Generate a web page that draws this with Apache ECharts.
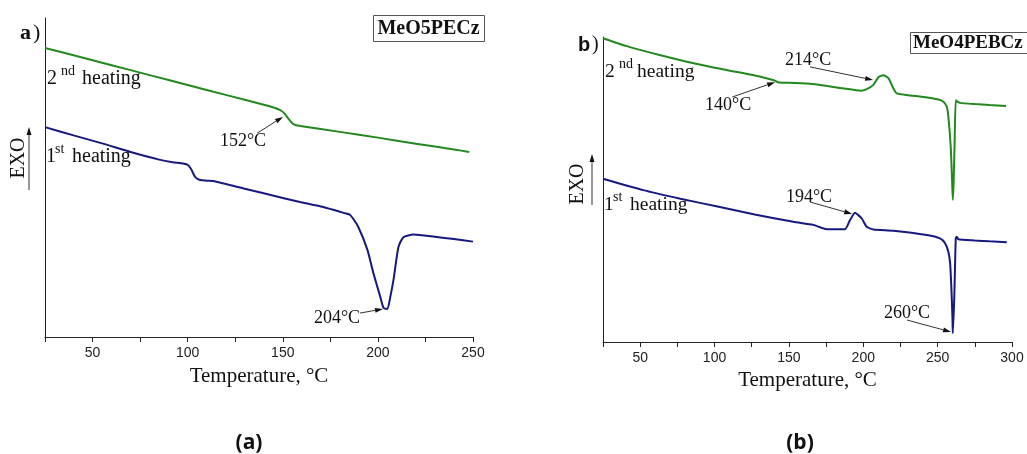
<!DOCTYPE html>
<html>
<head>
<meta charset="utf-8">
<script src="https://cdn.jsdelivr.net/npm/echarts@6/dist/echarts.min.js"></script>
<style>
  html, body { margin: 0; padding: 0; background: #fff; }
  #chart { width: 1027px; height: 454px; }
</style>
</head>
<body>
<div id="chart"></div>
<script>
// (a) MeO5PECz — temperature (°C) and heat flow (arbitrary units, EXO up)
const tA2 = [25, 40, 60, 80, 100, 120, 140, 146, 149, 151, 153, 155, 157, 160, 180, 200, 220, 240, 248]
const vA2 = [90.6, 88.3, 85.2, 82.1, 79.0, 75.9, 72.8, 71.8, 71.0, 70.0, 68.4, 67.0, 66.4, 66.1, 64.3, 62.5, 60.6, 58.8, 58.0]

const tA1 = [25, 40, 55, 70, 85, 92, 97.6, 100.2, 102, 103.9, 106.5, 110, 113.3, 130, 150, 159, 170, 177, 182, 185.5, 189.7, 194.5, 197.6, 201.3, 203, 205, 206.5, 208.2, 210.8, 213.4, 218.7, 230, 240, 250]
const vA1 = [65.8, 63.2, 60.7, 58.0, 55.6, 54.8, 54.4, 53.9, 52.4, 50.2, 49.2, 49.0, 48.9, 46.5, 43.6, 42.3, 40.9, 39.8, 38.9, 38.2, 34.5, 27.3, 20.1, 12.5, 9.1, 8.8, 12.5, 17.9, 28.2, 31.3, 32.1, 31.4, 30.7, 29.9]

// (b) MeO4PEBCz
const tB2 = [25, 41, 63, 86, 108, 125, 139.3, 142.7, 150, 166, 186, 198.6, 202, 206.8, 210.2, 213.5, 216.9, 220.2, 222.5, 229.2, 243, 250, 253.9, 256.1, 257.2, 258.8, 259.7, 260.2, 260.8, 261.5, 262.2, 263.3, 265.1, 275, 285, 296]
const vB2 = [99.6, 97.0, 94.1, 91.4, 89.2, 87.6, 85.9, 85.2, 85.0, 84.6, 83.2, 82.4, 82.8, 84.3, 86.8, 87.5, 86.5, 83.2, 81.5, 81.0, 80.2, 79.6, 78.8, 77.2, 73.9, 64.0, 53.1, 46.6, 53.0, 67.3, 79.3, 78.8, 78.4, 78.0, 77.7, 77.4]

const tB1 = [25, 52, 77, 102, 127, 153, 166.4, 175.4, 187.7, 191.1, 194.5, 196.7, 199, 202.3, 206.8, 220.2, 242.7, 251.6, 255, 257.2, 258.4, 259.3, 260, 260.2, 261.2, 262.2, 262.9, 263.9, 275, 285, 296.5]
const vB1 = [53.5, 49.8, 47.0, 44.4, 41.8, 39.4, 38.4, 37.0, 37.0, 40.0, 42.4, 41.6, 40.5, 37.8, 36.9, 36.5, 35.1, 34.0, 32.4, 29.6, 25.8, 17.0, 7.2, 2.9, 14.9, 34.0, 34.5, 33.7, 33.3, 33.0, 32.7]

// annotation labels with their arrows, in data coordinates
const notes = [
  { grid: 0, text: '152°C', at: [129.1, 61.4], from: [136.5, 63.9], to: [150.1, 69.0] },
  { grid: 0, text: '204°C', at: [178.5, 5.9], from: [190.6, 7.5], to: [202.7, 8.8] },
  { grid: 1, text: '214°C', at: [162.9, 92.5], from: [164.2, 90.2], to: [206.6, 85.9] },
  { grid: 1, text: '140°C', at: [109.1, 77.7], from: [111.8, 80.3], to: [140.7, 85.2] },
  { grid: 1, text: '194°C', at: [163.5, 47.5], from: [164.2, 45.9], to: [192.5, 42.0] },
  { grid: 1, text: '260°C', at: [229.4, 9.5], from: [229.4, 7.2], to: [259.0, 3.3] }
]

const GREEN = '#23891f'
const BLUE = '#17197f'
const AXIS = '#222'
const SERIF = '"Liberation Serif", "Times New Roman", serif'
const SANS = '"Liberation Sans", Arial, sans-serif'

const pairs = (t, v) => t.map((x, i) => [x, v[i]])

function xAxis(grid, max) {
  return {
    gridIndex: grid,
    type: 'value',
    min: 25,
    max: max,
    interval: 25,
    name: 'Temperature, °C',
    nameLocation: 'middle',
    nameGap: grid === 0 ? 29 : 27,
    nameTextStyle: { fontFamily: SERIF, fontSize: 21, color: '#111' },
    axisLine: { show: true, onZero: false, lineStyle: { color: AXIS, width: 1 } },
    axisTick: { show: true, inside: false, length: 5, lineStyle: { color: AXIS } },
    axisLabel: {
      margin: 9,
      fontFamily: SANS,
      fontSize: 14,
      color: '#222',
      formatter: v => (v % 50 === 0 ? String(v) : '')
    },
    splitLine: { show: false }
  }
}

function yAxis(grid) {
  return {
    gridIndex: grid,
    type: 'value',
    min: 0,
    max: 100,
    axisLine: { show: true, onZero: false, lineStyle: { color: AXIS, width: 1 } },
    axisTick: { show: false },
    axisLabel: { show: false },
    splitLine: { show: false }
  }
}

function line(grid, data, color) {
  return {
    type: 'line',
    xAxisIndex: grid,
    yAxisIndex: grid,
    data: data,
    showSymbol: false,
    smooth: 0.2,
    lineStyle: { color: color, width: 2 },
    animation: false
  }
}

function txt(x, y, text, size, opts) {
  return {
    type: 'text',
    silent: true,
    style: Object.assign({
      x: x, y: y, text: text,
      font: (opts && opts.weight ? opts.weight + ' ' : '') + size + 'px ' + ((opts && opts.family) || SERIF),
      fill: '#111',
      textVerticalAlign: 'middle'
    }, opts && opts.style)
  }
}

// "2nd heating" / "1st heating" with a raised suffix
function heatLabel(x, y, num, sup, size, supDx, wordDx) {
  return [
    txt(x, y, num, size),
    txt(x + supDx, y - 8, sup, 14),
    txt(x + wordDx, y, 'heating', size)
  ]
}

function exo(cx, cy, ax, ay0, ay1) {
  return [
    {
      type: 'text', silent: true, x: cx, y: cy, rotation: Math.PI / 2,
      style: { x: 0, y: 0, text: 'EXO', font: '20px ' + SERIF, fill: '#111', textAlign: 'center', textVerticalAlign: 'middle' }
    },
    { type: 'line', silent: true, shape: { x1: ax, y1: ay1, x2: ax, y2: ay0 + 4 }, style: { stroke: '#333', lineWidth: 1 } },
    { type: 'polygon', silent: true, shape: { points: [[ax, ay0], [ax - 2.5, ay0 + 8], [ax + 2.5, ay0 + 8]] }, style: { fill: '#111' } }
  ]
}

const staticGraphic = [
  txt(20, 33, 'a', 22, { weight: 'bold' }),
  txt(33, 33, ')', 22),
  txt(578, 45, 'b', 20, { weight: 'bold', family: SANS }),
  txt(592, 45, ')', 20),
  { type: 'rect', silent: true, shape: { x: 373.5, y: 15.5, width: 111, height: 26 }, style: { fill: '#fff', stroke: '#555', lineWidth: 1 } },
  txt(428.5, 29, 'MeO5PECz', 20, { weight: 'bold', style: { textAlign: 'center' } }),
  { type: 'rect', silent: true, shape: { x: 910.5, y: 32.5, width: 130, height: 21 }, style: { fill: '#fff', stroke: '#555', lineWidth: 1 } },
  txt(913, 43.5, 'MeO4PEBCz', 19, { weight: 'bold' }),
  ...heatLabel(47, 79, '2', 'nd', 20, 14, 35),
  ...heatLabel(46, 157, '1', 'st', 20, 9, 26),
  ...heatLabel(605, 72, '2', 'nd', 19.5, 14, 32),
  ...heatLabel(604, 205, '1', 'st', 19.5, 9, 26),
  ...exo(19, 158, 29, 127, 190),
  ...exo(578, 184, 592, 154, 205),
  txt(249, 443, '(a)', 21, { weight: 'bold', family: '"Open Sans", sans-serif', style: { textAlign: 'center' } }),
  txt(800, 443, '(b)', 21, { weight: 'bold', family: '"Open Sans", sans-serif', style: { textAlign: 'center' } })
]

const chart = echarts.init(document.getElementById('chart'), null, { renderer: 'canvas' })

chart.setOption({
  backgroundColor: '#fff',
  animation: false,
  grid: [
    { left: 45, top: 18, width: 428, height: 319 },
    { left: 603, top: 37, width: 409, height: 305 }
  ],
  xAxis: [xAxis(0, 250), xAxis(1, 300)],
  yAxis: [yAxis(0), yAxis(1)],
  series: [
    line(0, pairs(tA2, vA2), GREEN),
    line(0, pairs(tA1, vA1), BLUE),
    line(1, pairs(tB2, vB2), GREEN),
    line(1, pairs(tB1, vB1), BLUE)
  ],
  graphic: staticGraphic
})

// arrows and temperatures placed through the axes' own scales
const noteGraphic = []
notes.forEach(n => {
  const p = chart.convertToPixel({ gridIndex: n.grid }, n.at)
  const a = chart.convertToPixel({ gridIndex: n.grid }, n.from)
  const b = chart.convertToPixel({ gridIndex: n.grid }, n.to)
  const ang = Math.atan2(b[1] - a[1], b[0] - a[0])
  const len = 8, half = 2.5
  const bx = b[0] - len * Math.cos(ang), by = b[1] - len * Math.sin(ang)
  noteGraphic.push(
    txt(p[0], p[1], n.text, 18, { style: { textAlign: 'center' } }),
    { type: 'line', silent: true, shape: { x1: a[0], y1: a[1], x2: bx, y2: by }, style: { stroke: '#333', lineWidth: 1 } },
    {
      type: 'polygon', silent: true,
      shape: { points: [b, [bx - half * Math.sin(ang), by + half * Math.cos(ang)], [bx + half * Math.sin(ang), by - half * Math.cos(ang)]] },
      style: { fill: '#111' }
    }
  )
})

chart.setOption({ graphic: staticGraphic.concat(noteGraphic) })
</script>
</body>
</html>
